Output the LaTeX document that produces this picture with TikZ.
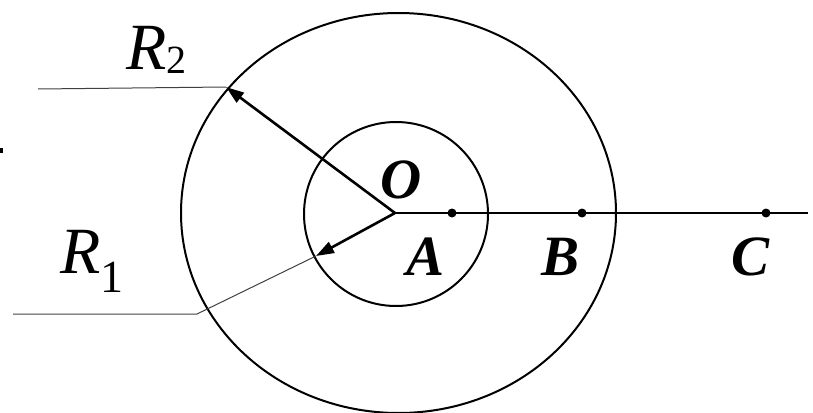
\documentclass[tikz,border=0pt]{standalone}
\usepackage{fontspec}
\setmainfont{Liberation Serif}
\usetikzlibrary{arrows.meta}

\begin{document}
\begin{tikzpicture}[
  x=1pt, y=-1pt,
  ring/.style={draw=black, line width=2pt},
  radius arrow/.style={-{Triangle[length=18pt,width=12pt]}, line width=2.6pt, draw=black},
  leader/.style={draw=black!75, line width=1pt},
  dot/.style={circle, fill=black, inner sep=0pt, minimum size=9pt},
  pointlabel/.style={font=\fontsize{57}{59}\selectfont\bfseries\itshape, inner sep=0pt},
  radiuslabel/.style={font=\fontsize{66}{68}\selectfont\itshape, inner sep=0pt, anchor=base west}
]
\useasboundingbox (0,0) rectangle (813,412);

\coordinate (O) at (395,213);
\coordinate (outerC) at (398.5,213);
\coordinate (innerC) at (396,214);
\coordinate (lineEnd) at (808,213);
\coordinate (tipRtwo) at (226,87);
\coordinate (tipRone) at (316,256);
\coordinate (leaderTwo) at (38,89);
\coordinate (kneeOne) at (197,314);
\coordinate (leaderOne) at (13,314);

\draw[ring] (outerC) ellipse [x radius=217.5, y radius=200];
\draw[ring] (innerC) circle [radius=92];

\draw[ring] (O) -- (lineEnd);
\node[dot] (A) at (452,213) {};
\node[dot] (B) at (582,213) {};
\node[dot] (C) at (766,213) {};

\draw[radius arrow] (O) -- (tipRtwo);
\draw[radius arrow] (O) -- (tipRone);

\draw[leader] (leaderTwo) -- (tipRtwo);
\draw[leader] (tipRone) -- (kneeOne) -- (leaderOne);

\node[pointlabel] (lblO) at (401,180) {O};
\node[pointlabel] (lblA) at (426,257) {A};
\node[pointlabel] (lblB) at (561,257) {B};
\node[pointlabel] (lblC) at (750,257) {C};

\node[radiuslabel] (lblRtwo) at (126,70)
  {R\raisebox{-4pt}{\fontsize{40}{40}\selectfont\upshape 2}};
\node[radiuslabel] (lblRone) at (60,273)
  {R\raisebox{-19pt}{\fontsize{46}{46}\selectfont\upshape 1}};

\fill (0,148) rectangle (2.5,153);

\end{tikzpicture}
\end{document}
